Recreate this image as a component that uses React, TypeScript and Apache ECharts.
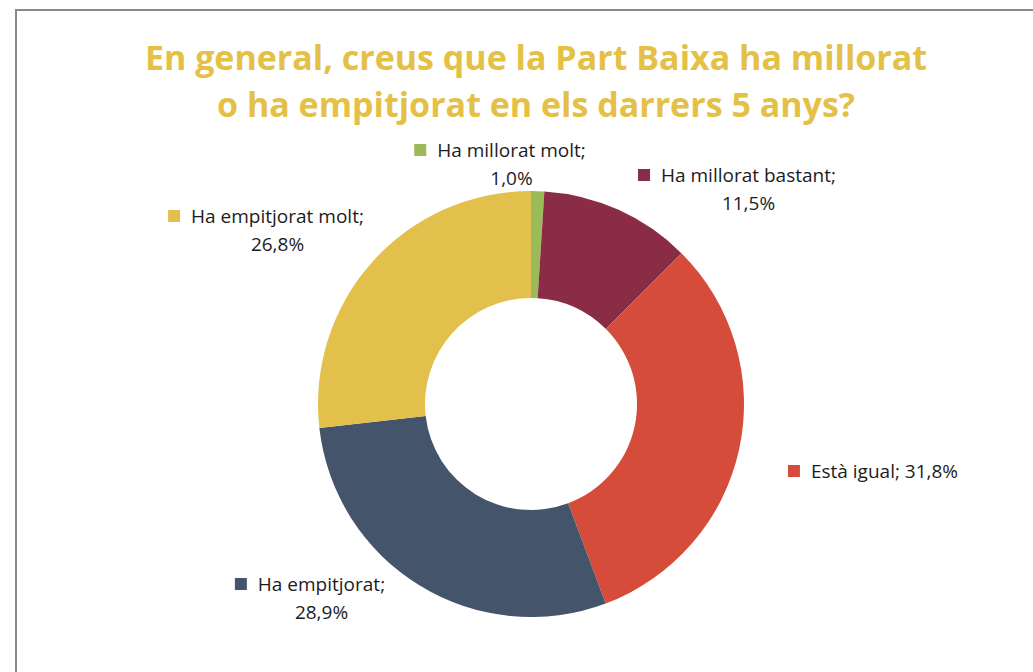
import React, { useEffect, useRef } from "react";
import * as echarts from "echarts";

const titleLines = [
  "En general, creus que la Part Baixa ha millorat",
  "o ha empitjorat en els darrers 5 anys?",
];
const categories = [
  "Ha millorat molt",
  "Ha millorat bastant",
  "Està igual",
  "Ha empitjorat",
  "Ha empitjorat molt",
];
const values = [1.0, 11.5, 31.8, 28.9, 26.8];
const colors = ["#9BBB59", "#8B2C47", "#D64C3B", "#44546A", "#E3BF4B"];
const singleLine = [false, false, true, false, false];

// label block centres (layout only)
const labelPos: [number, number][] = [
  [500, 164],
  [737, 189],
  [873, 471],
  [310, 598],
  [266, 230],
];

const fmt = (v: number) => v.toFixed(1).replace(".", ",") + "%";

export default function App() {
  const ref = useRef<HTMLDivElement>(null);
  useEffect(() => {
    document.body.style.margin = "0";
    const chart = echarts.init(ref.current!, null, { renderer: "svg" });
    const data = categories.map((name, i) => ({
      name,
      value: values[i],
      itemStyle: { color: colors[i] },
      label: {
        formatter: singleLine[i]
          ? `{sq|}{g|}{t|${name}; ${fmt(values[i])}}`
          : `{sq|}{g|}{t|${name};}\n{g2|}{t|${fmt(values[i])}}`,
        rich: {
          sq: { backgroundColor: colors[i], width: 12, height: 12 },
          g: { width: 11 },
          g2: { width: 23 },
          t: { color: "#1c1c1c", fontSize: 19, fontFamily: "Open Sans", lineHeight: 28 },
        },
      },
    }));
    chart.setOption({
      animation: false,
      backgroundColor: "#ffffff",
      title: {
        text: titleLines.join("\n"),
        left: 531,
        textAlign: "center",
        top: 28,
        textStyle: {
          color: "#E4C146",
          fontSize: 34,
          fontWeight: "bold",
          fontFamily: "Open Sans",
          lineHeight: 47,
        },
      },
      graphic: [
        {
          type: "rect",
          shape: { x: 16, y: 10, width: 1100, height: 720 },
          style: { fill: "none", stroke: "#8a8a8a", lineWidth: 2 },
          silent: true,
        },
      ],
      series: [
        {
          type: "pie",
          center: [531, 404],
          radius: [106, 213],
          startAngle: 90,
          clockwise: true,
          data,
          label: { show: true, position: "outside", align: "center" },
          labelLine: { show: false },
          labelLayout: (p: any) => ({
            x: labelPos[p.dataIndex][0],
            y: labelPos[p.dataIndex][1],
            align: "center",
            verticalAlign: "middle",
          }),
          emphasis: { disabled: true },
        },
      ],
    });
    return () => chart.dispose();
  }, []);
  return <div ref={ref} style={{ width: 1033, height: 672 }} />;
}
